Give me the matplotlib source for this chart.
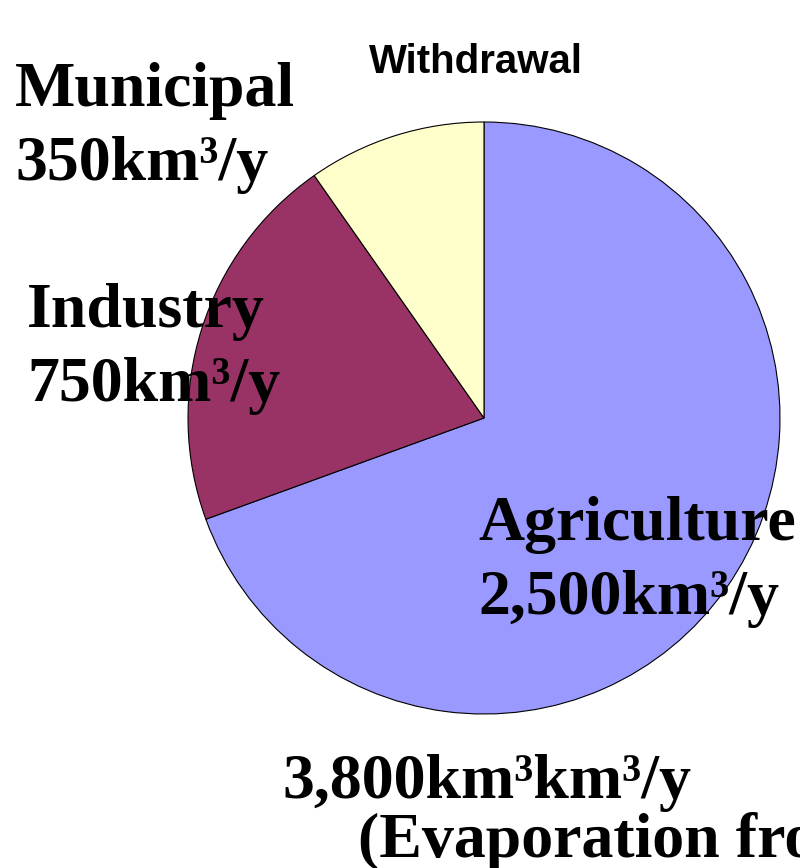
import matplotlib

matplotlib.use("Agg")
import matplotlib.pyplot as plt

# water withdrawal by sector (km3/y)
sectors = ["Agriculture", "Industry", "Municipal"]
volumes = [2500, 750, 350]
colors = ["#9999FF", "#993366", "#FFFFCC"]
value_labels = ["2,500km³/y", "750km³/y", "350km³/y"]
title = "Withdrawal"
bottom_lines = ["3,800km³km³/y", "(Evaporation from reservoirs)"]

W, H = 800, 868
fig = plt.figure(figsize=(W / 100, H / 100), dpi=100)
ax = fig.add_axes([0, 0, 1, 1])
ax.set_aspect("equal")
ax.axis("off")

ax.pie(volumes, colors=colors, startangle=90, counterclock=False,
       center=(484, H - 418), radius=296,
       wedgeprops=dict(edgecolor="black", linewidth=0.8))
ax.set_xlim(0, W)
ax.set_ylim(0, H)

serif = dict(family="Liberation Serif", weight="bold", fontsize=46, color="black")

# label anchors: left x, baseline y of first line (image pixels)
anchors = {"Municipal": (15, 106), "Industry": (27, 327), "Agriculture": (478, 540)}
for name, val in zip(sectors, value_labels):
    x, y = anchors[name]
    ax.text(x, H - y, name, va="baseline", ha="left", **serif)
    ax.text(x, H - y - 74, val, va="baseline", ha="left", **serif)

ax.text(476, H - 73, title, ha="center", va="baseline",
        family="Liberation Sans", weight="bold", fontsize=29)

# bottom note runs off the right edge, as in the original slide
ax.text(282, H - 798, bottom_lines[0], va="baseline", ha="left", **serif)
ax.text(358, H - 857, bottom_lines[1], va="baseline", ha="left", **serif)

fig.savefig("out.png", dpi=100)
